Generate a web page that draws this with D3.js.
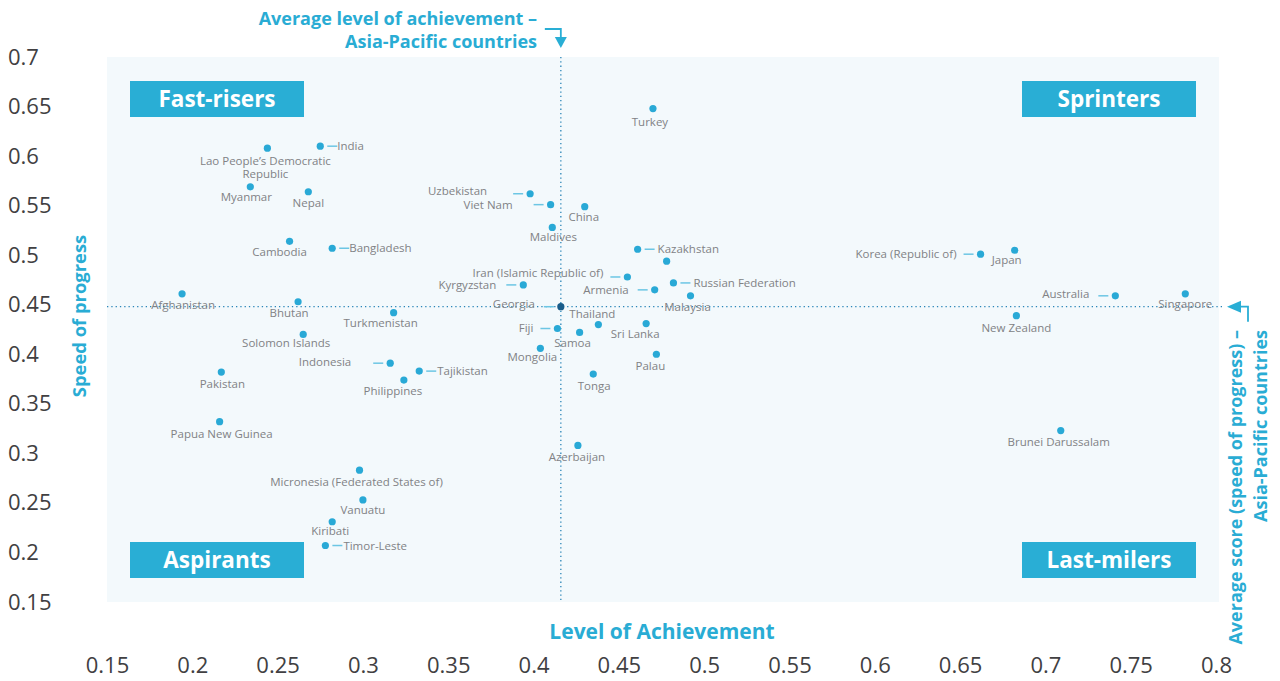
<!DOCTYPE html>
<meta charset="utf-8">
<style>
body { margin: 0; background: #fff; }
svg { display: block; font-family: "Open Sans", sans-serif; }
.axis .domain, .axis line { display: none; }
.axis text { font-size: 22px; fill: #414042; font-family: "Open Sans", sans-serif; }
.lbl { font-size: 11.5px; fill: #818285; }
.quad { font-size: 22.5px; font-weight: 700; fill: #fff; }
.note { fill: #29acd4; font-weight: 700; }
</style>
<svg width="1280" height="681"></svg>
<script src="https://d3js.org/d3.v7.min.js"></script>
<script>

var countries = ["Turkey", "India", "Lao People’s Democratic Republic", "Myanmar", "Nepal",
  "Uzbekistan", "Viet Nam", "China", "Maldives", "Cambodia", "Bangladesh", "Kazakhstan",
  "Korea (Republic of)", "Japan", "", "Iran (Islamic Republic of)", "Kyrgyzstan",
  "Russian Federation", "Armenia", "Afghanistan", "Australia", "Singapore", "Malaysia",
  "Bhutan", "Georgia", "Thailand", "Turkmenistan", "New Zealand", "Sri Lanka", "Fiji",
  "Samoa", "Solomon Islands", "Mongolia", "Palau", "Indonesia", "Tajikistan", "Pakistan",
  "Tonga", "Philippines", "Papua New Guinea", "Brunei Darussalam", "Azerbaijan",
  "Micronesia (Federated States of)", "Vanuatu", "Kiribati", "Timor-Leste"];

// level of achievement (x)
var achievement = [0.470, 0.275, 0.244, 0.234, 0.268,
  0.398, 0.410, 0.430, 0.411, 0.257, 0.282, 0.461,
  0.662, 0.682, 0.478, 0.455, 0.394,
  0.482, 0.471, 0.194, 0.741, 0.782, 0.492,
  0.262, 0.416, 0.438, 0.318, 0.683, 0.466, 0.414,
  0.427, 0.265, 0.404, 0.472, 0.316, 0.333, 0.217,
  0.435, 0.324, 0.216, 0.709, 0.426,
  0.298, 0.300, 0.282, 0.278];

// speed of progress (y)
var progress = [0.648, 0.610, 0.608, 0.569, 0.564,
  0.562, 0.551, 0.549, 0.528, 0.514, 0.507, 0.506,
  0.501, 0.505, 0.494, 0.478, 0.470,
  0.472, 0.465, 0.461, 0.459, 0.461, 0.459,
  0.453, 0.448, 0.430, 0.442, 0.439, 0.431, 0.426,
  0.422, 0.420, 0.406, 0.400, 0.391, 0.383, 0.382,
  0.380, 0.374, 0.332, 0.323, 0.308,
  0.283, 0.253, 0.231, 0.207];

var avgAchievement = 0.416,
    avgProgress = 0.448;

var xTicks = [0.15, 0.2, 0.25, 0.3, 0.35, 0.4, 0.45, 0.5, 0.55, 0.6, 0.65, 0.7, 0.75, 0.8];
var yTicks = [0.15, 0.2, 0.25, 0.3, 0.35, 0.4, 0.45, 0.5, 0.55, 0.6, 0.65, 0.7];

var quadrants = ["Fast-risers", "Sprinters", "Aspirants", "Last-milers"];

// label placement: [anchor, dx, dy] from the dot (m = below/above, s = right, e = left)
var place = {
  "Turkey": ["m", -3, 13], "India": ["s", 17, 0], "Lao People’s Democratic Republic": ["m", -2, 13],
  "Myanmar": ["m", -4, 10], "Nepal": ["m", 0, 11], "Uzbekistan": ["e", -43, -3],
  "Viet Nam": ["e", -38, 0], "China": ["m", -1, 10], "Maldives": ["m", 1, 10],
  "Cambodia": ["m", -10, 11], "Bangladesh": ["s", 17, 0], "Kazakhstan": ["s", 20, 0],
  "Korea (Republic of)": ["e", -24, 0], "Japan": ["m", -8, 10], "Iran (Islamic Republic of)": ["e", -24, -4],
  "Kyrgyzstan": ["e", -27, 0.5], "Russian Federation": ["s", 20, 0], "Armenia": ["e", -26, 0],
  "Afghanistan": ["m", 1, 11], "Australia": ["e", -26, -2], "Singapore": ["m", 0, 10],
  "Malaysia": ["m", -3, 11], "Bhutan": ["m", -9, 11], "Georgia": ["e", -26, -3],
  "Thailand": ["m", -6, -11], "Turkmenistan": ["m", -13, 10], "New Zealand": ["m", 0, 12],
  "Sri Lanka": ["m", -11, 10], "Fiji": ["e", -24, -1], "Samoa": ["m", -7, 11],
  "Solomon Islands": ["m", -17, 9], "Mongolia": ["m", -8, 9], "Palau": ["m", -6, 12],
  "Indonesia": ["e", -39, -1], "Tajikistan": ["s", 18, 0], "Pakistan": ["m", 1, 12],
  "Tonga": ["m", 1, 12], "Philippines": ["m", -11, 11], "Papua New Guinea": ["m", 2, 12],
  "Brunei Darussalam": ["m", -2, 11], "Azerbaijan": ["m", -1, 12],
  "Micronesia (Federated States of)": ["m", -3, 12], "Vanuatu": ["m", 0, 10],
  "Kiribati": ["m", -2, 9], "Timor-Leste": ["s", 18, 0]
};
var lines = { "Lao People’s Democratic Republic": ["Lao People’s Democratic", "Republic"] };

var cyan = "#29aed5", dotBlue = "#29a9d6", dark = "#185c8a";

var svg = d3.select("svg");

var x = d3.scaleLinear().domain([0.15, 0.8]).range([107, 1216]),
    y = d3.scaleLinear().domain([0.15, 0.7]).range([602, 57]);

// plot background
svg.append("rect")
    .attr("x", x(0.15)).attr("y", y(0.7))
    .attr("width", x(0.8) - x(0.15) + 3).attr("height", y(0.15) - y(0.7))
    .attr("fill", "#f3f9fc");

// axes
svg.append("g")
    .attr("class", "axis")
    .attr("transform", "translate(0,657)")
    .call(d3.axisBottom(x).tickValues(xTicks).tickSize(0).tickPadding(0).tickFormat(String));

svg.append("g")
    .attr("class", "axis")
    .attr("transform", "translate(8,0)")
    .call(d3.axisRight(y).tickValues(yTicks).tickSize(0).tickPadding(0).tickFormat(String));

// average lines
svg.append("line")
    .attr("x1", x(0.15)).attr("x2", x(0.8) + 8)
    .attr("y1", y(avgProgress)).attr("y2", y(avgProgress))
    .attr("stroke", "#2b86b8").attr("stroke-width", 1.3).attr("stroke-dasharray", "1.3,3");
svg.append("line")
    .attr("x1", x(avgAchievement)).attr("x2", x(avgAchievement))
    .attr("y1", y(0.7)).attr("y2", y(0.15))
    .attr("stroke", "#2b86b8").attr("stroke-width", 1.3).attr("stroke-dasharray", "1.3,3");

// quadrant boxes
var boxW = 174, boxH = 36;
var boxPos = [[130, 81], [1022, 81], [130, 542], [1022, 542]];
quadrants.forEach(function(q, i) {
  svg.append("rect")
      .attr("x", boxPos[i][0]).attr("y", boxPos[i][1])
      .attr("width", boxW).attr("height", boxH)
      .attr("fill", cyan);
  svg.append("text")
      .attr("class", "quad")
      .attr("x", boxPos[i][0] + boxW / 2).attr("y", boxPos[i][1] + boxH / 2 + 8)
      .attr("text-anchor", "middle")
      .text(q);
});

var data = countries.map(function(c, i) {
  return { name: c, a: achievement[i], p: progress[i] };
});

// leader lines
var withLeader = data.filter(function(d) { return place[d.name] && place[d.name][0] !== "m"; });
svg.selectAll(".leader")
  .data(withLeader)
  .enter().append("line")
    .attr("class", "leader")
    .attr("x1", function(d) { return x(d.a) + (place[d.name][0] === "s" ? 7 : -17); })
    .attr("x2", function(d) { return x(d.a) + (place[d.name][0] === "s" ? 17 : -7); })
    .attr("y1", function(d) { return y(d.p); })
    .attr("y2", function(d) { return y(d.p); })
    .attr("stroke", "#6cc6e4").attr("stroke-width", 1.5);

// dots
svg.selectAll(".dot")
  .data(data)
  .enter().append("circle")
    .attr("class", "dot")
    .attr("cx", function(d) { return x(d.a); })
    .attr("cy", function(d) { return y(d.p); })
    .attr("r", 3.6)
    .attr("fill", function(d) { return d.name === "Georgia" ? dark : dotBlue; });

// labels
var labelled = data.filter(function(d) { return place[d.name]; });
var lbl = svg.selectAll(".lbl")
  .data(labelled)
  .enter().append("text")
    .attr("class", "lbl")
    .attr("x", function(d) { return x(d.a) + place[d.name][1]; })
    .attr("y", function(d) { return y(d.p) + place[d.name][2]; })
    .attr("text-anchor", function(d) {
      var s = place[d.name][0];
      return s === "m" ? "middle" : s === "s" ? "start" : "end";
    });
lbl.each(function(d) {
  var t = d3.select(this);
  var ls = lines[d.name] || [d.name];
  ls.forEach(function(l, j) {
    t.append("tspan")
        .attr("x", x(d.a) + place[d.name][1])
        .attr("dy", j === 0 ? "0.35em" : "1.15em")
        .text(l);
  });
});

// axis titles
svg.append("text")
    .attr("class", "note")
    .attr("x", 662).attr("y", 639)
    .attr("text-anchor", "middle")
    .style("font-size", "21px")
    .text("Level of Achievement");

svg.append("text")
    .attr("class", "note")
    .attr("transform", "translate(86,316) rotate(-90)")
    .attr("text-anchor", "middle")
    .style("font-size", "18.4px")
    .text("Speed of progress");

// top annotation
svg.append("text")
    .attr("class", "note")
    .attr("x", 537).attr("y", 25)
    .attr("text-anchor", "end")
    .style("font-size", "18px")
    .text("Average level of achievement –");
svg.append("text")
    .attr("class", "note")
    .attr("x", 537).attr("y", 48)
    .attr("text-anchor", "end")
    .style("font-size", "18px")
    .text("Asia-Pacific countries");

var ax = x(avgAchievement);
svg.append("path")
    .attr("d", "M" + (ax - 16) + ",29H" + ax + "V39")
    .attr("fill", "none").attr("stroke", cyan).attr("stroke-width", 1.8);
svg.append("path")
    .attr("d", "M" + (ax - 6) + ",37L" + (ax + 6) + ",37L" + ax + ",48Z")
    .attr("fill", cyan);

// right annotation
var ay = y(avgProgress);
svg.append("path")
    .attr("d", "M1239," + ay + "H1248V" + (ay + 15))
    .attr("fill", "none").attr("stroke", cyan).attr("stroke-width", 1.8);
svg.append("path")
    .attr("d", "M1227," + ay + "L1241," + (ay - 6) + "L1241," + (ay + 6) + "Z")
    .attr("fill", cyan);

svg.append("text")
    .attr("class", "note")
    .attr("transform", "translate(1242,330) rotate(-90)")
    .attr("text-anchor", "end")
    .style("font-size", "18px")
    .text("Average score (speed of progress) –");
svg.append("text")
    .attr("class", "note")
    .attr("transform", "translate(1267,330) rotate(-90)")
    .attr("text-anchor", "end")
    .style("font-size", "18px")
    .text("Asia-Pacific countries");

</script>
